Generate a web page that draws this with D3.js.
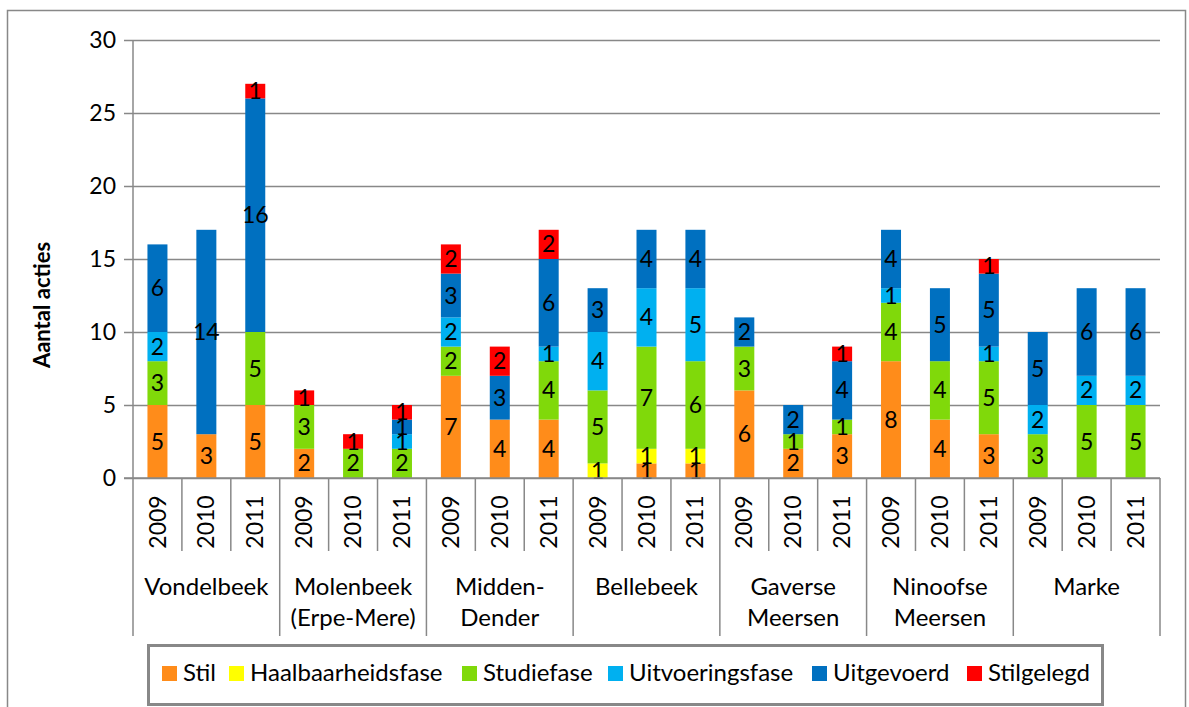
<!DOCTYPE html>
<html>
<head>
<meta charset="utf-8">
<script src="https://cdn.jsdelivr.net/npm/d3@7"></script>
<style>
  body { margin: 0; background: #fff; }
  svg text { font-family: Lato, "Noto Sans", sans-serif; }
</style>
</head>
<body>
<svg id="graph"></svg>
<script>
// data
var years = ["2009", "2010", "2011"];
var groups = [["Vondelbeek"], ["Molenbeek", "(Erpe-Mere)"], ["Midden-", "Dender"], ["Bellebeek"],
              ["Gaverse", "Meersen"], ["Ninoofse", "Meersen"], ["Marke"]];
var seriesNames = ["Stil", "Haalbaarheidsfase", "Studiefase", "Uitvoeringsfase", "Uitgevoerd", "Stilgelegd"];
var stil    = [5, 3, 5,  2, 0, 0,  7, 4, 4,  0, 1, 1,  6, 2, 3,  8, 4, 3,  0, 0, 0];
var haalb   = [0, 0, 0,  0, 0, 0,  0, 0, 0,  1, 1, 1,  0, 0, 0,  0, 0, 0,  0, 0, 0];
var studie  = [3, 0, 5,  3, 2, 2,  2, 0, 4,  5, 7, 6,  3, 1, 1,  4, 4, 5,  3, 5, 5];
var uitv    = [2, 0, 0,  0, 0, 1,  2, 0, 1,  4, 4, 5,  0, 0, 0,  1, 0, 1,  2, 2, 2];
var uitgev  = [6, 14, 16, 0, 0, 1, 3, 3, 6,  3, 4, 4,  2, 2, 4,  4, 5, 5,  5, 6, 6];
var stilg   = [0, 0, 1,  1, 1, 1,  2, 2, 2,  0, 0, 0,  0, 0, 1,  0, 0, 1,  0, 0, 0];
var yTicks = [0, 5, 10, 15, 20, 25, 30];

var colors = ["#FF8C1A", "#FFFF00", "#80D90A", "#00B0F0", "#0070C0", "#FF0000"];
var values = [stil, haalb, studie, uitv, uitgev, stilg];

// one row per bar
var rows = [];
groups.forEach(function(g, gi) {
  years.forEach(function(y, yi) {
    var i = gi * 3 + yi;
    var r = {key: gi + "-" + y, group: gi, year: y};
    seriesNames.forEach(function(s, si) { r[s] = values[si][i]; });
    rows.push(r);
  });
});

var svg = d3.select("#graph")
    .attr("width", 1189)
    .attr("height", 707);

var plotLeft = 133, plotRight = 1160, plotTop = 40, plotBottom = 478;

// outer border
svg.append("rect")
    .attr("x", 7.5).attr("y", 10.5)
    .attr("width", 1178).attr("height", 700)
    .attr("fill", "none").attr("stroke", "#888").attr("stroke-width", 1.5);

var x = d3.scaleBand().domain(rows.map(function(d) { return d.key; })).range([plotLeft, plotRight]);
var y = d3.scaleLinear().domain([0, 30]).range([plotBottom, plotTop]);

// gridlines + y axis
var yaxis = svg.append("g")
    .attr("transform", "translate(" + plotLeft + ",0)")
    .call(d3.axisLeft(y).tickValues(yTicks).tickSize(-(plotRight - plotLeft)).tickPadding(17));
yaxis.select(".domain").remove();
yaxis.selectAll(".tick line").attr("stroke", "#888").attr("stroke-width", 1.5).attr("x1", -9);
yaxis.selectAll(".tick text").attr("font-size", 23).attr("fill", "#000")
    .style("font-family", "Lato, sans-serif");
svg.append("line")
    .attr("x1", plotLeft).attr("x2", plotLeft).attr("y1", plotTop).attr("y2", plotBottom)
    .attr("stroke", "#888").attr("stroke-width", 1.5);

svg.append("text")
    .attr("transform", "translate(42,305) rotate(-90)")
    .attr("text-anchor", "middle")
    .attr("dy", "0.35em")
    .attr("font-size", 22).attr("font-weight", "bold")
    .text("Aantal acties");

// stacked bars
var stack = d3.stack().keys(seriesNames);
var layers = stack(rows);
var barW = 20;

var layer = svg.selectAll(".layer")
  .data(layers)
  .enter().append("g")
    .attr("class", "layer")
    .attr("fill", function(d, i) { return colors[i]; });

layer.selectAll("rect")
  .data(function(d) { return d.filter(function(s) { return s[1] > s[0]; }); })
  .enter().append("rect")
    .attr("x", function(d) { return x(d.data.key) + x.bandwidth() / 2 - barW / 2; })
    .attr("y", function(d) { return y(d[1]); })
    .attr("width", barW)
    .attr("height", function(d) { return y(d[0]) - y(d[1]); });

var labels = svg.append("g");
layers.forEach(function(l) {
  l.forEach(function(s) {
    if (s[1] > s[0]) {
      labels.append("text")
        .attr("x", x(s.data.key) + x.bandwidth() / 2)
        .attr("y", y((s[0] + s[1]) / 2))
        .attr("dy", "0.35em")
        .attr("text-anchor", "middle")
        .attr("font-size", 23)
        .text(s[1] - s[0]);
    }
  });
});

// category axis: years and groups
var cat = svg.append("g");
cat.append("line")
    .attr("x1", plotLeft - 9).attr("x2", plotRight).attr("y1", plotBottom).attr("y2", plotBottom)
    .attr("stroke", "#888").attr("stroke-width", 1.5);
rows.forEach(function(d, i) {
  var x0 = x(d.key);
  var isGroupStart = i % 3 === 0;
  cat.append("line")
    .attr("x1", x0).attr("x2", x0)
    .attr("y1", plotBottom).attr("y2", isGroupStart ? 636 : 551)
    .attr("stroke", "#888").attr("stroke-width", 1.5);
  cat.append("text")
    .attr("transform", "translate(" + (x0 + x.bandwidth() / 2) + ",522) rotate(-90)")
    .attr("text-anchor", "middle")
    .attr("dy", "0.35em")
    .attr("font-size", 23)
    .text(d.year);
});
cat.append("line")
    .attr("x1", plotRight).attr("x2", plotRight).attr("y1", plotBottom).attr("y2", 636)
    .attr("stroke", "#888").attr("stroke-width", 1.5);

groups.forEach(function(g, gi) {
  var cx = x(rows[gi * 3].key) + x.bandwidth() * 1.5;
  g.forEach(function(line, li) {
    cat.append("text")
      .attr("x", cx)
      .attr("y", 587 + li * 31)
      .attr("dy", "0.35em")
      .attr("text-anchor", "middle")
      .attr("font-size", 24)
      .text(line);
  });
});

// legend
var legend = svg.append("g");
legend.append("rect")
    .attr("x", 148.5).attr("y", 645.5).attr("width", 954).attr("height", 59)
    .attr("fill", "#fff").attr("stroke", "#888").attr("stroke-width", 3);
var legendX = [162, 229, 462, 608, 812, 967];
seriesNames.forEach(function(s, i) {
  legend.append("rect")
    .attr("x", legendX[i]).attr("y", 666).attr("width", 15).attr("height", 15)
    .attr("fill", colors[i]);
  legend.append("text")
    .attr("x", legendX[i] + 21).attr("y", 673)
    .attr("dy", "0.35em")
    .attr("font-size", 24)
    .text(s);
});
</script>
</body>
</html>
